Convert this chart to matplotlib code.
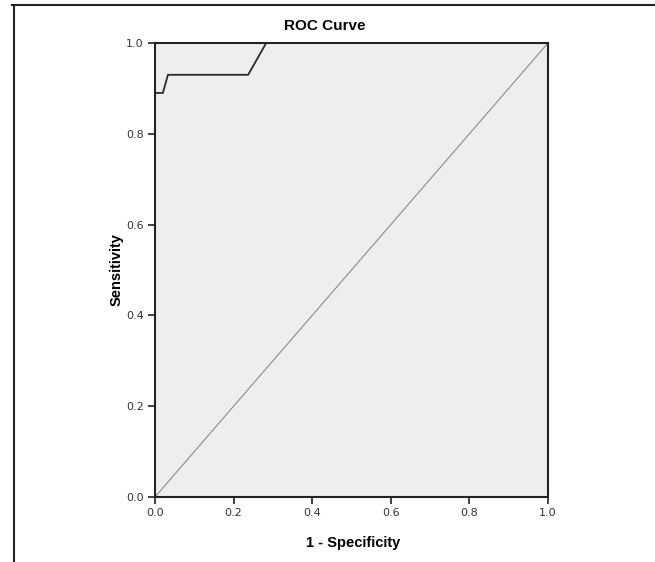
import matplotlib.pyplot as plt
from matplotlib.lines import Line2D

# ROC curve points (1 - specificity, sensitivity)
fpr = [0.0, 0.0, 0.02, 0.033, 0.237, 0.283, 1.0]
tpr = [0.0, 0.89, 0.89, 0.93, 0.93, 1.0, 1.0]
ref = [0.0, 1.0]
ticks = [0.0, 0.2, 0.4, 0.6, 0.8, 1.0]

fig = plt.figure(figsize=(6.55, 5.62), dpi=100)
fig.patch.set_facecolor("white")

# outer frame (top and left edges)
fig.add_artist(Line2D([12/655, 1.0], [1 - 5/562, 1 - 5/562], color="#222222", lw=1.5))
fig.add_artist(Line2D([14/655, 14/655], [0.0, 1 - 5/562], color="#222222", lw=1.5))

ax = fig.add_axes([155/655, 1 - 497/562, 393/655, 454/562])
ax.set_facecolor("#eeeeee")

ax.plot(ref, ref, color="#8a8a8a", lw=0.8)
ax.plot(fpr, tpr, color="#2a2a2a", lw=1.3, solid_joinstyle="miter")

ax.set_xlim(0, 1)
ax.set_ylim(0, 1)
ax.set_xticks(ticks)
ax.set_yticks(ticks)
ax.set_xticklabels([f"{t:.1f}" for t in ticks])
ax.set_yticklabels([f"{t:.1f}" for t in ticks])
ax.tick_params(direction="out", length=5, width=1.2, labelsize=8,
               labelcolor="#333333", color="#222222", pad=3)
for s in ax.spines.values():
    s.set_linewidth(1.5)
    s.set_color("#222222")

fig.text(325/655, 1 - 26/562, "ROC Curve", ha="center", va="center",
         fontsize=11, fontweight="bold", family="Liberation Sans")
fig.text(353/655, 1 - 543/562, "1 - Specificity", ha="center", va="center",
         fontsize=10.5, fontweight="bold", family="Liberation Sans")
fig.text(117/655, 1 - 270/562, "Sensitivity", ha="center", va="center",
         rotation=90, fontsize=10.5, fontweight="bold", family="Liberation Sans")

fig.savefig("out.png", dpi=100)
